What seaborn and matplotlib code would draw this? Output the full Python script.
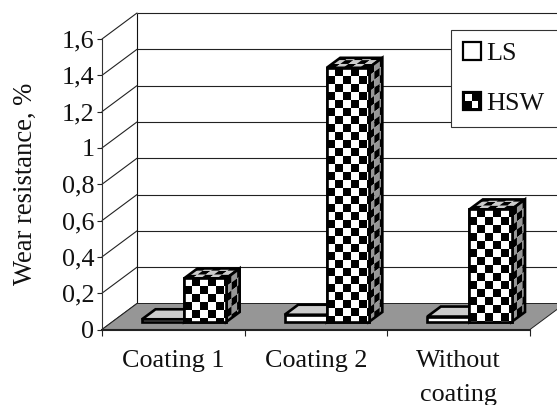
import matplotlib
matplotlib.use("Agg")
import matplotlib.pyplot as plt
import numpy as np
import pandas as pd
import seaborn as sns
from matplotlib.collections import PolyCollection
from matplotlib.legend_handler import HandlerBase
from matplotlib.patches import Polygon, Rectangle
from matplotlib.transforms import Affine2D, IdentityTransform

categories = ["Coating 1", "Coating 2", "Without\ncoating"]
ls_values = [0.015, 0.04, 0.03]
hsw_values = [0.24, 1.40, 0.62]
y_ticks = [0, 0.2, 0.4, 0.6, 0.8, 1, 1.2, 1.4, 1.6]
y_tick_labels = ["0", "0,2", "0,4", "0,6", "0,8", "1", "1,2", "1,4", "1,6"]
series_names = ["LS", "HSW"]
y_title = "Wear resistance, %"

GREY = "#969696"
LIGHT = "#cccccc"
FS = 18.8
WALL = (35.0, 26.0)      # px depth of the chart box
BAR_DEPTH = (13.5, 10.0)  # px depth of a bar
BAR_SHIFT = (10.75, 7.5)  # px from front plane to bar front

sns.set_theme(style="white")
plt.rcParams["font.family"] = ["Liberation Serif", "DejaVu Serif"]

W, H = 557, 405
fig = plt.figure(figsize=(W / 100, H / 100), dpi=100, facecolor="white")
ax = fig.add_axes([102 / W, 75.5 / H, 428 / W, 290.5 / H])
ax.patch.set_visible(False)

df = pd.DataFrame({
    "category": categories * 2,
    "value": ls_values + hsw_values,
    "series": [series_names[0]] * 3 + [series_names[1]] * 3,
})
sns.barplot(data=df, x="category", y="value", hue="series", palette=["white", "white"],
            width=0.59, gap=0, errorbar=None, ax=ax, legend=False, saturation=1)
ax.set_xlim(-0.5, 2.5)
ax.set_ylim(0, 1.6)
ax.set_yticks(y_ticks, y_tick_labels)
ax.set_xlabel("")
ax.set_ylabel(y_title, fontsize=FS + 0.4, labelpad=17, color="#111111")
ax.set_xticks([-0.5, 0.5, 1.5, 2.5], minor=False, labels=["", "", "", ""])
ax.set_xticks([0, 1, 2], categories, minor=True)
ax.tick_params(axis="x", which="major", length=4.5, width=0.8, color="#222222", bottom=True)
ax.tick_params(axis="x", which="minor", length=0, pad=15, labelsize=FS, labelcolor="#111111", bottom=False)
ax.tick_params(axis="y", length=3.5, width=0.8, color="#222222", left=True, pad=2,
               labelsize=FS, labelcolor="#111111")
for lab in ax.get_xticklabels(minor=True):
    lab.set_linespacing(1.68)
    lab.set_verticalalignment("top")
for s in ["top", "right"]:
    ax.spines[s].set_visible(False)
ax.spines["left"].set_color("#333333")
ax.spines["left"].set_linewidth(0.8)
ax.spines["bottom"].set_color("#222222")
ax.spines["bottom"].set_linewidth(1.5)
for s in ax.spines.values():
    s.set_zorder(30)

ident = IdentityTransform()
to_px = ax.transData.transform
wall = Affine2D().translate(*WALL)
back = ax.transData + wall

# back wall grid and side-wall diagonals
ax.hlines(y_ticks, -0.5, 2.5, transform=back, colors="#222222", linewidth=0.8, clip_on=False, zorder=1)
ax.vlines(-0.5, 0, 1.6, transform=back, colors="#111111", linewidth=0.8, clip_on=False, zorder=1)
for v in y_ticks:
    x0, y0 = to_px((-0.5, v))
    ax.plot([x0, x0 + WALL[0]], [y0, y0 + WALL[1]], transform=ident, color="#222222",
            linewidth=0.8, clip_on=False, zorder=1)

# floor
p00 = to_px((-0.5, 0))
p10 = to_px((2.5, 0))
floor = Polygon([p00, p10, p10 + np.array(WALL), p00 + np.array(WALL)], closed=True,
                facecolor=GREY, edgecolor="#222222", linewidth=0.7, transform=ident,
                clip_on=False, zorder=2)
ax.add_patch(floor)


def checker(origin, u, v, cell_u, cell_v, dark, light, z, start=0):
    """Paint a checker inside the parallelogram origin + s*u + t*v."""
    origin, u, v = map(np.asarray, (origin, u, v))
    lu, lv = np.hypot(*u), np.hypot(*v)
    nu = int(np.ceil(lu / cell_u - 1e-6))
    nv = int(np.ceil(lv / cell_v - 1e-6))
    polys, cols = [], []
    for i in range(nu):
        for j in range(nv):
            s0, s1 = i * cell_u / lu, min((i + 1) * cell_u / lu, 1)
            t0, t1 = j * cell_v / lv, min((j + 1) * cell_v / lv, 1)
            polys.append([origin + s0 * u + t0 * v, origin + s1 * u + t0 * v,
                          origin + s1 * u + t1 * v, origin + s0 * u + t1 * v])
            cols.append(dark if (i + j + start) % 2 else light)
    ax.add_collection(PolyCollection(polys, facecolors=cols, edgecolors="none", transform=ident,
                                     clip_on=False, zorder=z), autolim=False)


def outline(points, z, lw=1.9, fc="none"):
    ax.add_patch(Polygon(points, closed=True, facecolor=fc, edgecolor="black", linewidth=lw,
                         joinstyle="miter", transform=ident, clip_on=False, zorder=z))


shift = Affine2D().translate(*BAR_SHIFT)
depth = np.array(BAR_DEPTH)
for k, cont in enumerate(ax.containers):
    base_z = 4 + 4 * k
    for bar in cont:
        bar.set_transform(ax.transData + shift)
        bar.set_clip_on(False)
        bar.set_facecolor("white")
        bar.set_edgecolor("black")
        bar.set_linewidth(1.9)
        bar.set_zorder(base_z + 2)
        x, w, h = bar.get_x(), bar.get_width(), bar.get_height()
        ll = to_px((x, 0)) + np.array(BAR_SHIFT)
        lr = to_px((x + w, 0)) + np.array(BAR_SHIFT)
        ul = to_px((x, h)) + np.array(BAR_SHIFT)
        ur = to_px((x + w, h)) + np.array(BAR_SHIFT)
        top = [ul, ur, ur + depth, ul + depth]
        side = [lr, lr + depth, ur + depth, ur]
        if k == 0:
            outline(top, base_z, fc=LIGHT)
            outline(side, base_z, fc=GREY)
        else:
            checker(ul, ur - ul, depth, 8.2, 6.5, "black", LIGHT, base_z, start=1)
            outline(top, base_z + 0.5)
            checker(ur, depth, lr - ur, 6.8, 8.0, "black", GREY, base_z + 1, start=1)
            outline(side, base_z + 1.5)
            checker(ul, lr - ll, ll - ul, 8.0, 8.0, "black", "white", base_z + 2.5)
            outline([ll, lr, ur, ul], base_z + 3)


class Swatch(HandlerBase):
    def __init__(self, checkered):
        super().__init__()
        self.checkered = checkered

    def create_artists(self, legend, orig_handle, xdescent, ydescent, width, height, fontsize, trans):
        arts = [Rectangle((-xdescent, -ydescent), width, height, facecolor="white",
                          edgecolor="black", linewidth=1.6, transform=trans)]
        if self.checkered:
            arts = [Rectangle((-xdescent, -ydescent), width, height, facecolor="black",
                              edgecolor="black", linewidth=1.6, transform=trans),
                    Rectangle((-xdescent + width * 0.12, -ydescent + height * 0.5), width * 0.38,
                              height * 0.38, facecolor="white", edgecolor="none", transform=trans),
                    Rectangle((-xdescent + width * 0.5, -ydescent + height * 0.12), width * 0.38,
                              height * 0.38, facecolor="white", edgecolor="none", transform=trans)]
        return arts


h_ls, h_hsw = ax.containers[0], ax.containers[1]
leg = ax.legend([h_ls, h_hsw], series_names, loc="upper left",
                bbox_to_anchor=(451 / W, 1 - 126 / H, 130 / W, 96 / H), bbox_transform=fig.transFigure,
                mode="expand", borderaxespad=0, fontsize=FS, borderpad=0.45, labelspacing=1.04,
                handlelength=0.68, handleheight=0.68, handletextpad=0.22, fancybox=False, framealpha=1,
                facecolor="white", edgecolor="#333333",
                handler_map={h_ls: Swatch(False), h_hsw: Swatch(True)})
leg.get_frame().set_linewidth(0.8)
leg.set_zorder(40)
for t in leg.get_texts():
    t.set_color("#111111")

fig.savefig("out.png", dpi=100)
